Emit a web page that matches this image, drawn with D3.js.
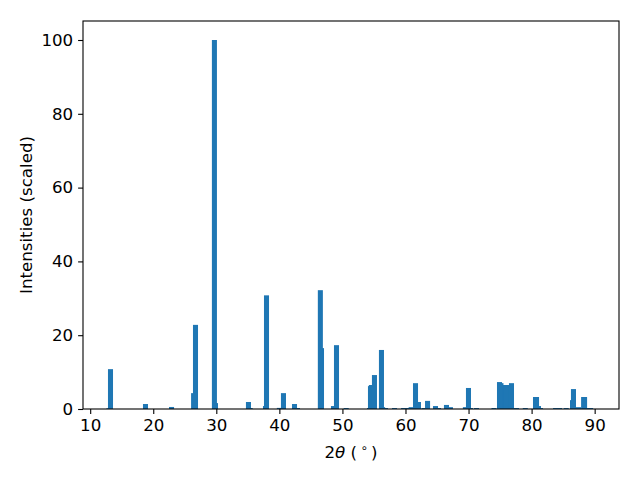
<!DOCTYPE html>
<html>
<head>
<meta charset="utf-8">
<script src="https://cdn.jsdelivr.net/npm/d3@7"></script>
<style>
  body { margin: 0; background: #fff; }
  text { font-family: "DejaVu Sans", sans-serif; }
</style>
</head>
<body>
<div id="chart"></div>
<script>
// peak positions (2theta, deg) and scaled intensities
const twoTheta = [
  12.97, 13.22, 18.77, 22.9, 26.4, 26.7, 29.87, 29.7, 35.1, 35.37,
  37.8, 37.96, 40.0, 40.65, 42.4, 42.87, 46.5, 46.68, 48.58, 49.06,
  50.6, 54.29, 54.45, 54.59, 55.08, 56.19, 56.37, 56.83, 58.26, 59.7,
  60.48, 60.9, 61.59, 62.06, 62.94, 63.5, 64.76, 65.24, 66.5, 67.13,
  69.5, 69.99, 70.3, 71.26, 74.04, 74.91, 75.14, 75.86, 76.02, 76.81,
  77.6, 79.0, 80.62, 80.78, 81.09, 81.41, 83.8, 84.44, 85.49, 86.49,
  86.64, 87.43, 88.25, 88.4, 89.19, 89.35
];
const intensity = [
  0.2, 10.8, 1.35, 0.55, 4.3, 22.8, 1.6, 100, 1.9, 0.27,
  0.8, 30.8, 0.3, 4.3, 1.35, 0.27, 32.2, 16.5, 0.8, 17.3,
  0.27, 0.27, 6.2, 6.5, 9.2, 16.0, 0.5, 0.27, 0.27, 0.27,
  0.27, 0.5, 7.0, 1.9, 0.27, 2.2, 0.8, 0.27, 1.1, 0.5,
  0.5, 5.7, 0.27, 0.27, 0.27, 7.3, 7.0, 6.5, 6.5, 7.0,
  0.27, 0.27, 3.25, 3.25, 0.8, 0.27, 0.27, 0.27, 0.27, 2.4,
  5.4, 0.5, 3.25, 3.25, 0.27, 0.27
];
const xTicks = [10, 20, 30, 40, 50, 60, 70, 80, 90];
const yTicks = [0, 20, 40, 60, 80, 100];
const barWidth = 0.8;

const W = 640, H = 480;
const margin = { top: 21, right: 21, bottom: 71, left: 83 },
  width = W - margin.left - margin.right,
  height = H - margin.top - margin.bottom;

const svg = d3.select("#chart").append("svg")
  .attr("width", W).attr("height", H);

const g = svg.append("g")
  .attr("transform", `translate(${margin.left},${margin.top})`);

const x = d3.scaleLinear().domain([8.86, 93.86]).range([0, width]);
const y = d3.scaleLinear().domain([0, 105.15]).range([height, 0]);

// taller peaks drawn last so they sit on top
const peaks = twoTheta.map((t, i) => ({ t: t, v: intensity[i] }))
  .sort((a, b) => a.v - b.v);

g.selectAll(".bar")
  .data(peaks)
  .enter()
  .append("rect")
  .attr("class", "bar")
  .attr("x", (d) => x(d.t - barWidth / 2))
  .attr("width", x(barWidth) - x(0))
  .attr("y", (d) => y(d.v))
  .attr("height", (d) => height - y(d.v))
  .attr("fill", "#1f77b4");

// axes
const xAxis = g.append("g")
  .attr("transform", `translate(0,${height})`)
  .call(d3.axisBottom(x).tickValues(xTicks).tickSize(4.9).tickPadding(4.9));
const yAxis = g.append("g")
  .call(d3.axisLeft(y).tickValues(yTicks).tickSize(4.9).tickPadding(4.9));

[xAxis, yAxis].forEach((a) => {
  a.select(".domain").remove();
  a.selectAll("line").attr("stroke", "#000").attr("stroke-width", 1.1);
  a.selectAll("text")
    .style("font-size", "16.67px")
    .style("font-family", "DejaVu Sans")
    .attr("fill", "#000");
});

// frame
g.append("rect")
  .attr("width", width).attr("height", height)
  .attr("fill", "none").attr("stroke", "#000").attr("stroke-width", 1.1);

// axis labels
const xl = svg.append("text")
  .attr("x", margin.left + width / 2)
  .attr("y", 458)
  .attr("text-anchor", "middle")
  .style("font-size", "16.67px");
xl.append("tspan").text("2");
xl.append("tspan").style("font-style", "italic").text("θ");
xl.append("tspan").text(" (\u2009");
xl.append("tspan").attr("dy", -6).style("font-size", "11.7px").text("∘");
xl.append("tspan").attr("dy", 6).text("\u2009)");

svg.append("text")
  .attr("transform", `translate(32,${margin.top + height / 2}) rotate(-90)`)
  .attr("text-anchor", "middle")
  .style("font-size", "16.67px")
  .text("Intensities (scaled)");
</script>
</body>
</html>
